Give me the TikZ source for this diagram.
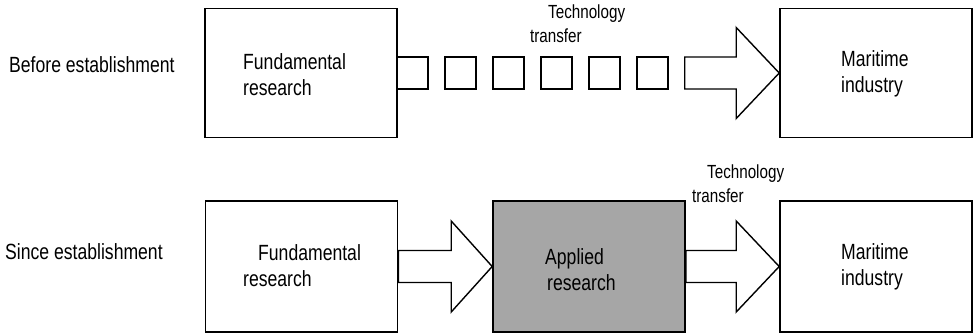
\documentclass[tikz,border=0pt]{standalone}
\usepackage{fontspec}
\setmainfont{Liberation Sans}
\newfontfamily\tallfont{Liberation Sans}[FakeStretch=0.8]
\usetikzlibrary{calc}
\tikzset{
  box/.style={draw=black, line width=1.6pt, minimum width=192pt, minimum height=129pt, inner sep=0pt},
  sq/.style={draw=black, line width=1.4pt, minimum width=31pt, minimum height=32pt, inner sep=0pt},
  txt/.style={font=\tallfont\fontsize{22}{26}\selectfont, align=left, inner sep=0pt},
  small/.style={font=\tallfont\fontsize{19}{24}\selectfont, align=left, inner sep=0pt},
  blk/.style={draw=black, line width=1.4pt, fill=white, line join=miter},
}
\newcommand\blockarrow[3]{%
  \draw[blk] ($(#1)+(0,-16)$) -- ($(#2)+(-#3,-16)$) -- ($(#2)+(-#3,-45.5)$) -- (#2)
    -- ($(#2)+(-#3,45.5)$) -- ($(#2)+(-#3,16)$) -- ($(#1)+(0,16)$) -- cycle;}
\begin{document}
\begin{tikzpicture}[x=1pt,y=-1pt]
\useasboundingbox (0,0) rectangle (973,333);
% row labels
\node[txt, anchor=west] (before) at (9,65) {Before establishment};
\node[txt, anchor=west] (since) at (5,252) {Since establishment};
% top row
\node[box] (fund1) at (301,73) {};
\node[box] (mar1) at (876,73) {};
\node[txt, anchor=west] (fund1t) at (243,75) {Fundamental\\research};
\node[txt, anchor=west] (mar1t) at (841,74) {Maritime\\industry};
\foreach \i in {0,...,5} {
  \node[sq] (sq\i) at ({412.5+48*\i},73) {};
}
\coordinate (tstart) at ($(sq5.east)+(16,0)$);
\blockarrow{tstart}{mar1.west}{43}
\node[small, anchor=north west] (tt1) at (530,5) {\hspace*{18pt}Technology\\transfer};
% bottom row
\node[box, minimum height=131pt] (fund2) at (301.5,266.5) {};
\node[box, minimum height=131pt, fill=black!35] (app) at (589,266.5) {};
\node[box, minimum height=131pt] (mar2) at (876,266.5) {};
\node[txt, anchor=west] (fund2t) at (243,266) {\hspace*{15pt}Fundamental\\research};
\node[txt, anchor=west] (appt) at (545,270) {Applied\\\hspace*{2pt}research};
\node[txt, anchor=west] (mar2t) at (841,267) {Maritime\\industry};
\blockarrow{fund2.east}{app.west}{41}
\blockarrow{app.east}{mar2.west}{43}
\node[small, anchor=north west] (tt2) at (692,165) {\hspace*{15pt}Technology\\transfer};
\end{tikzpicture}
\end{document}
